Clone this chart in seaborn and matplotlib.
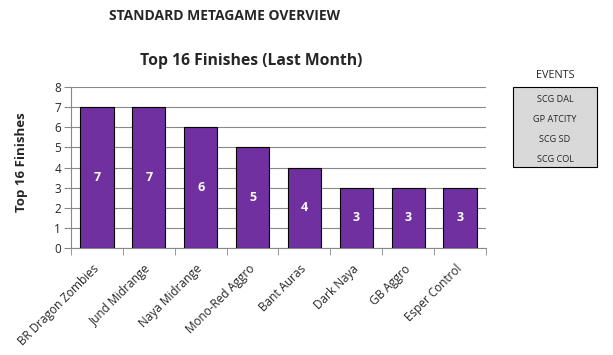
import matplotlib
matplotlib.use("Agg")
import matplotlib.pyplot as plt
import seaborn as sns
import pandas as pd
from matplotlib.patches import Rectangle

decks = ['BR Dragon Zombies', 'Jund Midrange', 'Naya Midrange', 'Mono-Red Aggro',
         'Bant Auras', 'Dark Naya', 'GB Aggro', 'Esper Control']
finishes = [7, 7, 6, 5, 4, 3, 3, 3]
events = ['SCG DAL', 'GP ATCITY', 'SCG SD', 'SCG COL']

df = pd.DataFrame({'deck': decks, 'finishes': finishes})

sns.set_style('white')
plt.rcParams['font.family'] = ['Open Sans', 'DejaVu Sans']

fig = plt.figure(figsize=(6.13, 3.55), dpi=100)
ax = fig.add_axes([0.1158, 0.3014, 0.677, 0.4535])

sns.barplot(data=df, x='deck', y='finishes', color='#7030A0', saturation=1,
            edgecolor='black', linewidth=0.8, width=0.64, ax=ax, zorder=3)

for i, v in enumerate(finishes):
    ax.text(i, v / 2, str(v), ha='center', va='center', color='white',
            fontsize=9, fontweight='bold', zorder=4)

ax.set_ylim(0, 8)
ax.set_xlim(-0.5, len(decks) - 0.5)
ax.set_yticks(range(0, 9))
ax.yaxis.grid(True, color='#888888', linewidth=0.8, zorder=0)
ax.set_axisbelow(True)
for s in ['top', 'right']:
    ax.spines[s].set_visible(False)
ax.spines['left'].set_color('#888888')
ax.spines['bottom'].set_color('#888888')
ax.tick_params(axis='y', which='both', left=True, length=5, color='#888888',
               labelsize=8.5, pad=2)
ax.set_xticks([i - 0.5 for i in range(len(decks) + 1)], minor=True)
ax.tick_params(axis='x', which='minor', bottom=True, length=5, color='#888888')
ax.tick_params(axis='x', which='major', bottom=False, labelsize=8.5, pad=10)
ax.set_xticklabels(decks, rotation=45, ha='right', va='center', rotation_mode='anchor')

ax.set_xlabel('')
ax.set_ylabel('Top 16 Finishes', fontsize=9.5, fontweight='bold')
ax.yaxis.set_label_coords(-0.104, 0.534)

fig.text(0.4095, 0.828, 'Top 16 Finishes (Last Month)', ha='center', va='center',
         fontsize=11.3, fontweight='bold')
fig.text(0.367, 0.955, 'STANDARD METAGAME OVERVIEW', ha='center', va='center',
         fontsize=10, fontweight='bold')

# events box
fig.text(0.9055, 0.786, 'EVENTS', ha='center', va='center', fontsize=7.8)
fig.patches.append(Rectangle((0.837, 0.53), 0.137, 0.225, transform=fig.transFigure,
                             facecolor='#D9D9D9', edgecolor='black', linewidth=0.8))
for k, e in enumerate(events):
    fig.text(0.9055, 0.72 - k * 0.056, e, ha='center', va='center', fontsize=6.6)

fig.savefig('out.png', dpi=100)
